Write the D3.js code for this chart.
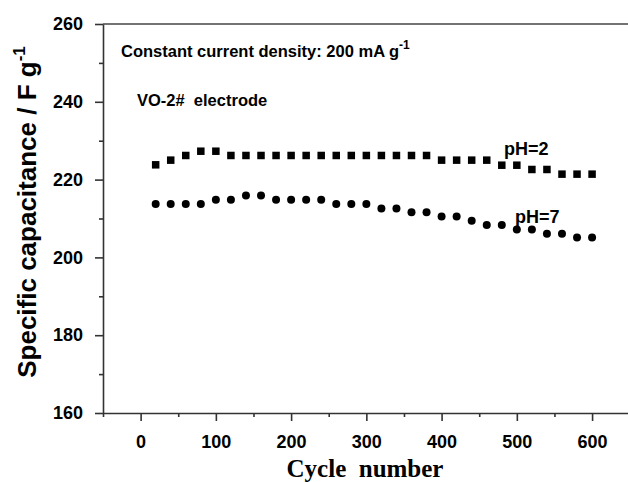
<!DOCTYPE html>
<html>
<head>
<meta charset="utf-8">
<title>Specific capacitance vs cycle number</title>
<script src="https://cdn.jsdelivr.net/npm/d3@7"></script>
<style>
  body { margin: 0; background: #fff; }
  text { font-family: "Liberation Sans", Arial, sans-serif; font-weight: bold; fill: #000; }
  .serif { font-family: "Liberation Serif", "Times New Roman", serif; }
</style>
</head>
<body>
<script>
// data
var cycles = [20, 40, 60, 80, 100, 120, 140, 160, 180, 200,
              220, 240, 260, 280, 300, 320, 340, 360, 380, 400,
              420, 440, 460, 480, 500, 520, 540, 560, 580, 600];

var ph2 = [223.8, 225.0, 226.2, 227.3, 227.3, 226.2, 226.2, 226.2, 226.2, 226.2,
           226.2, 226.2, 226.2, 226.2, 226.2, 226.2, 226.2, 226.2, 226.2, 225.0,
           225.0, 225.0, 225.0, 223.7, 223.7, 222.6, 222.6, 221.4, 221.4, 221.4];

var ph7 = [213.7, 213.7, 213.7, 213.7, 214.8, 214.8, 215.9, 215.9, 214.8, 214.8,
           214.8, 214.8, 213.7, 213.7, 213.7, 212.6, 212.6, 211.6, 211.6, 210.5,
           210.5, 209.4, 208.3, 208.3, 207.2, 207.2, 206.1, 206.1, 205.1, 205.1];

var xTicks = [0, 100, 200, 300, 400, 500, 600];
var yTicks = [160, 180, 200, 220, 240, 260];

var W = 628, H = 482;
var pLeft = 103, pTop = 24, pBottom = 413, pRight = 629.7;

var svg = d3.select("body").append("svg")
    .attr("width", W)
    .attr("height", H);

var x = d3.scaleLinear().domain([-50, 650]).range([pLeft, pRight]);
var y = d3.scaleLinear().domain([160, 260]).range([pBottom, pTop]);

// frame lines (top + right)
svg.append("line")
    .attr("x1", pLeft).attr("x2", pRight)
    .attr("y1", pTop).attr("y2", pTop)
    .attr("stroke", "#444").attr("stroke-width", 1.6);
svg.append("line")
    .attr("x1", pRight).attr("x2", pRight)
    .attr("y1", pTop).attr("y2", pBottom)
    .attr("stroke", "#444").attr("stroke-width", 1.6);

// minor ticks first
svg.append("g")
    .attr("transform", "translate(0," + pBottom + ")")
    .call(d3.axisBottom(x).tickValues(d3.range(-50, 651, 100)).tickSize(4).tickFormat(""))
    .call(function(g) { g.select(".domain").remove(); });
svg.append("g")
    .attr("transform", "translate(" + pLeft + ",0)")
    .call(d3.axisLeft(y).tickValues([170, 190, 210, 230, 250]).tickSize(4).tickFormat(""))
    .call(function(g) { g.select(".domain").remove(); });

// x axis
var gx = svg.append("g")
    .attr("transform", "translate(0," + pBottom + ")")
    .call(d3.axisBottom(x).tickValues(xTicks).tickSize(8).tickSizeOuter(0).tickPadding(14));
gx.selectAll("text")
    .style("font-size", "18px")
    .attr("fill", "#000");

// y axis
var gy = svg.append("g")
    .attr("transform", "translate(" + pLeft + ",0)")
    .call(d3.axisLeft(y).tickValues(yTicks).tickSize(8).tickSizeOuter(0).tickPadding(12));
gy.selectAll("text")
    .style("font-size", "18px")
    .attr("fill", "#000");

svg.selectAll(".domain, .tick line")
    .attr("stroke", "#333")
    .attr("stroke-width", 1.6);

// pH=2 squares
var sq = 7.5;
svg.append("g").selectAll("rect")
    .data(cycles)
    .enter().append("rect")
    .attr("x", function(d) { return x(d) - sq / 2; })
    .attr("y", function(d, i) { return y(ph2[i]) - sq / 2; })
    .attr("width", sq)
    .attr("height", sq)
    .attr("fill", "#000");

// pH=7 circles
svg.append("g").selectAll("circle")
    .data(cycles)
    .enter().append("circle")
    .attr("cx", function(d) { return x(d); })
    .attr("cy", function(d, i) { return y(ph7[i]); })
    .attr("r", 4)
    .attr("fill", "#000");

// series labels
svg.append("text")
    .attr("x", 504).attr("y", 155)
    .style("font-size", "18px")
    .text("pH=2");
svg.append("text")
    .attr("x", 515).attr("y", 223)
    .style("font-size", "18px")
    .text("pH=7");

// annotations
var t1 = svg.append("text")
    .attr("x", 121).attr("y", 57)
    .style("font-size", "16.5px");
t1.append("tspan").text("Constant current density: 200 mA g");
t1.append("tspan").attr("dy", -8).style("font-size", "12px").text("-1");

svg.append("text")
    .attr("x", 137).attr("y", 106)
    .style("font-size", "16.5px")
    .style("white-space", "pre")
    .text("VO-2#  electrode");

// axis titles
svg.append("text")
    .attr("class", "serif")
    .attr("x", 365)
    .attr("y", 477)
    .attr("text-anchor", "middle")
    .style("font-size", "25px")
    .style("white-space", "pre")
    .text("Cycle  number");

var yt = svg.append("text")
    .attr("transform", "translate(36,212) rotate(-90)")
    .attr("text-anchor", "middle")
    .style("font-size", "26px");
yt.append("tspan").text("Specific capacitance / F g");
yt.append("tspan").attr("dy", -11).style("font-size", "17px").text("-1");
</script>
</body>
</html>
